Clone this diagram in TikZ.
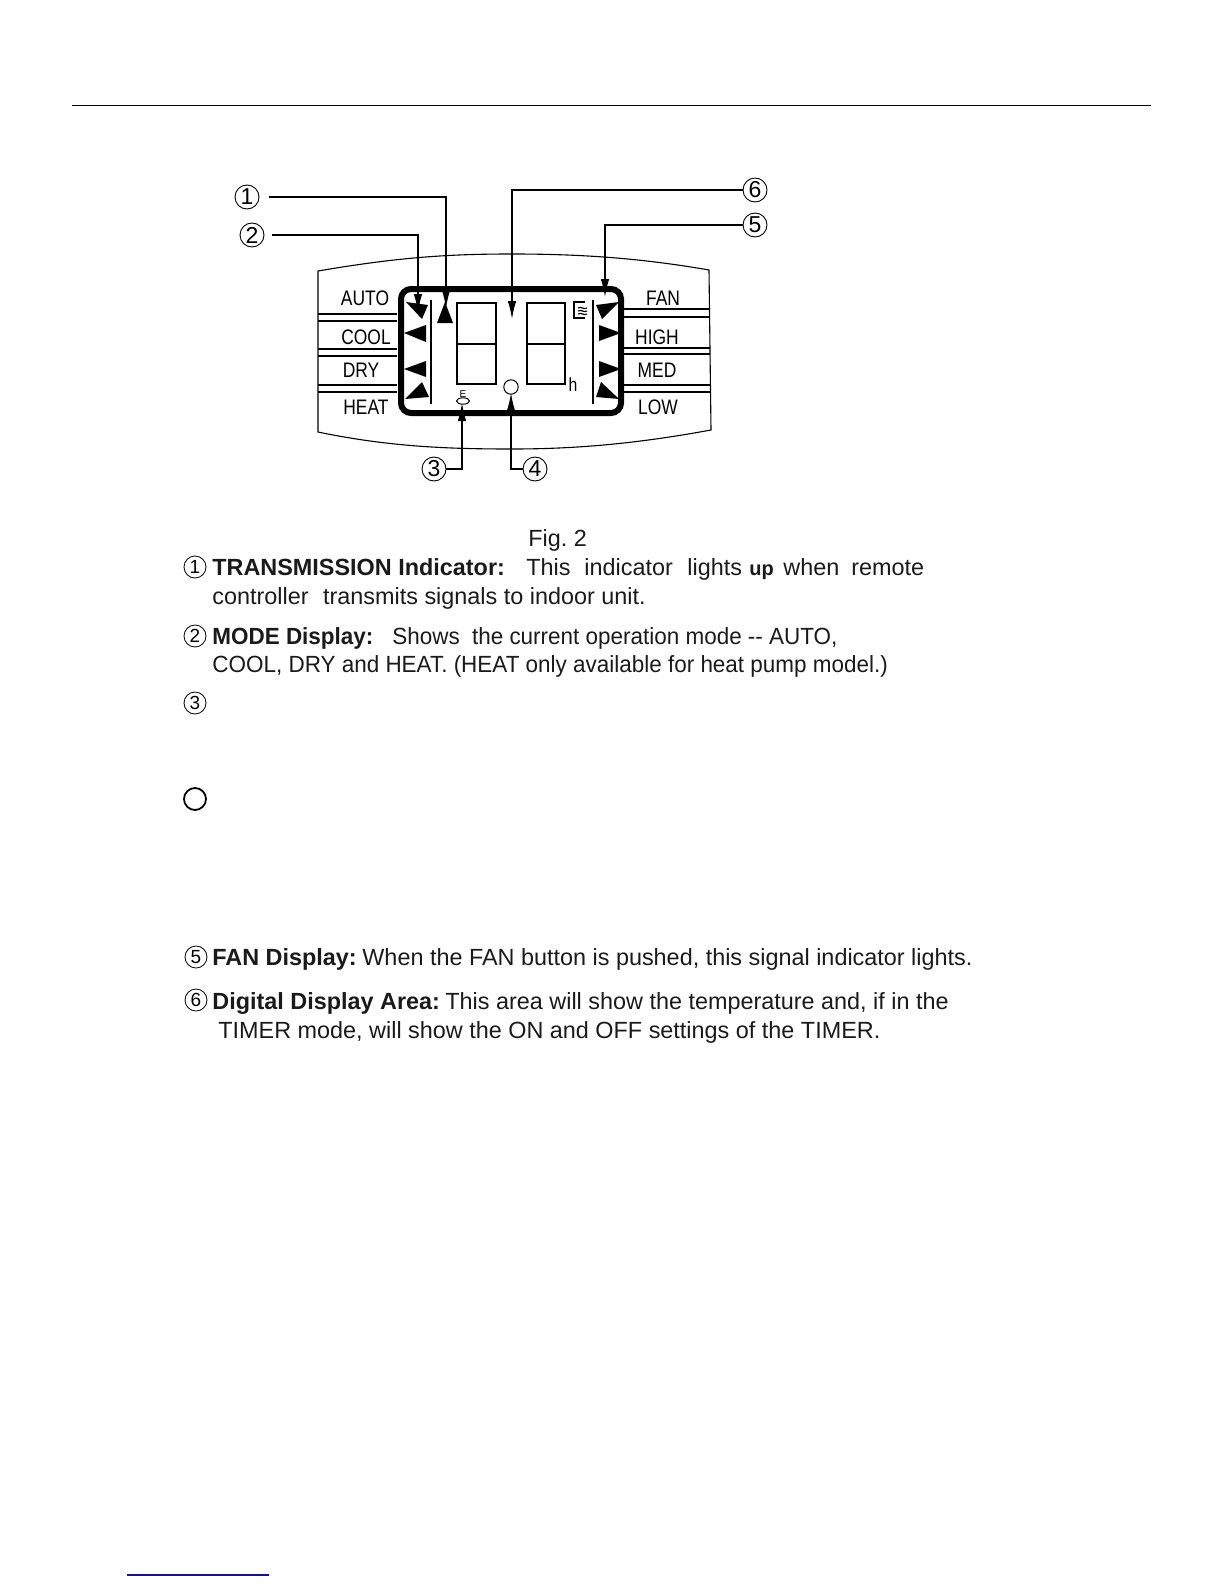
\documentclass[tikz,border=0pt]{standalone}
\usepackage{fontspec}
\setmainfont{Liberation Sans}
\newfontfamily\lcdfont[FakeStretch=0.83]{Liberation Sans}
\newfontfamily\tightfont[FakeStretch=0.96]{Liberation Sans}
\usetikzlibrary{arrows.meta,shapes.geometric}
\definecolor{inkblack}{HTML}{1A1A1A}
\tikzset{
    num/.style={circle,draw,line width=0.45pt,minimum size=12pt,inner sep=0pt,font=\fontsize{11.5}{12}\selectfont},
    smallnum/.style={circle,draw,line width=0.4pt,minimum size=11pt,inner sep=0pt,font=\fontsize{9.5}{10}\selectfont},
    pointer/.style={line width=0.55pt,-{Latex[length=9pt,width=4.2pt]}},
    lcdlabel/.style={font=\lcdfont\fontsize{10.5}{12}\selectfont,inner sep=0pt},
    txt/.style={anchor=base west,inner sep=0pt,text=inkblack,font=\fontsize{11.7}{14}\selectfont},
    boldtxt/.style={txt,font=\fontsize{11.7}{14}\selectfont\bfseries},
    tighttxt/.style={txt,font=\tightfont\fontsize{11.7}{14}\selectfont},
    digit/.style={line width=0.55pt},
    thinline/.style={line width=0.55pt},
}
\begin{document}
\begin{tikzpicture}[x=0.5pt,y=-0.5pt]
    \useasboundingbox (0,0) rectangle (1224,1584);
    \draw[line width=0.4pt] (72,105) -- (1151,105);
    \draw[line width=0.8pt,color={rgb,255:red,20;green,20;blue,130}] (127,1575) -- (269,1575);
    % panel
    \draw[thinline] (318,271) .. controls (400,257) and (450,254) .. (512,254) .. controls (580,254) and (640,258) .. (709,270) -- (711,430) .. controls (640,443) and (580,449) .. (512,449) .. controls (450,449) and (390,447) .. (318,432) -- cycle;
    \foreach \y in {314,321,349,356,385,392} \draw[thinline] (318,\y) -- (397,\y);
    \foreach \y in {309,317,348,354,385,392} \draw[thinline] (623,\y) -- (710,\y);
    \draw[line width=3pt,fill=white,rounded corners=5pt] (401,289) rectangle (621,413);
    % segments
    \draw[digit] (457,303) rectangle (496,384) (457,344) -- (496,344);
    \draw[digit] (527,303) rectangle (565,384) (527,344) -- (565,344);
    \draw[thinline] (431,300) -- (431,404);
    \draw[thinline] (593,300) -- (593,404);
    % mode marks
    \fill (406,302) -- (428,305) -- (422,319) -- cycle;
    \fill (404,333) -- (426,325) -- (426,342) -- cycle;
    \fill (404,369) -- (426,361) -- (426,377) -- cycle;
    \fill (405,399) -- (422,382) -- (429,397) -- cycle;
    \fill (437,323) -- (453,323) -- (445,302) -- cycle;
    % fan marks
    \fill (596,305) -- (619,302) -- (602,319) -- cycle;
    \fill (599,325) -- (621,333) -- (599,341) -- cycle;
    \fill (599,361) -- (621,369) -- (599,377) -- cycle;
    \fill (596,397) -- (619,399) -- (601,382) -- cycle;
    % heater icon
    \draw[line width=0.55pt] (585,302) -- (574,302) -- (574,318) -- (585,318);
    \foreach \y in {308,311,314} \draw[line width=0.55pt] (578,\y) .. controls (581,\y-2) and (584,\y+2) .. (587,\y);
    % labels
    \node[lcdlabel] (auto) at (365,298) {AUTO};
    \node[lcdlabel] (cool) at (366,337) {COOL};
    \node[lcdlabel] (dry) at (361,370) {DRY};
    \node[lcdlabel] (heat) at (366,407) {HEAT};
    \node[lcdlabel] (fan) at (663,298) {FAN};
    \node[lcdlabel] (high) at (657,337) {HIGH};
    \node[lcdlabel] (med) at (657,370) {MED};
    \node[lcdlabel] (low) at (658,407) {LOW};
    \node[lcdlabel,font=\lcdfont\fontsize{9.5}{10}\selectfont] (hour) at (573,385) {h};
    \node[inner sep=0pt,font=\fontsize{5}{5}\selectfont] (minifont) at (463,394) {E};
    \node[draw,ellipse,line width=0.5pt,minimum width=6.5pt,minimum height=3.2pt,inner sep=0pt] (sun) at (463,401) {};
    \node[draw,circle,line width=0.5pt,minimum size=7.2pt,inner sep=0pt] (timer) at (511,387) {};
    % callouts
    \node[num] (c1) at (247,197) {1};
    \node[num] (c2) at (252,235) {2};
    \node[num] (c3) at (434,469) {3};
    \node[num] (c4) at (535,469) {4};
    \node[num] (c5) at (755,225) {5};
    \node[num] (c6) at (755,190) {6};
    \coordinate (t1) at (446,308);
    \coordinate (t2) at (418,312);
    \coordinate (t3) at (462,403);
    \coordinate (t4) at (511,393);
    \coordinate (t5) at (605,297);
    \coordinate (t6) at (512,319);
    \draw[pointer,shorten <=5pt] (c1) -| (t1);
    \draw[pointer,shorten <=4pt] (c2) -| (t2);
    \draw[pointer] (c3) -| (t3);
    \draw[pointer] (c4) -| (t4);
    \draw[pointer] (c5) -| (t5);
    \draw[pointer] (c6) -| (t6);
    % text
    \node[txt] (fig) at (528,546) {Fig.\ 2};
    \node[smallnum] (k1) at (195,567) {1};
    \node[boldtxt] (l1) at (212,575) {TRANSMISSION Indicator:};
    \node[txt] (w1) at (526,575) {This};
    \node[txt] (w2) at (584,575) {indicator};
    \node[txt] (w3) at (687,575) {lights};
    \node[boldtxt,font=\fontsize{10}{12}\selectfont\bfseries] (w4) at (749,575) {up};
    \node[txt] (w5) at (783,575) {when};
    \node[txt] (w6) at (851,575) {remote};
    \node[txt] (l2) at (212,604) {controller\hspace{4pt} transmits signals to indoor unit.};
    \node[smallnum] (k2) at (195,636) {2};
    \node[boldtxt,font=\tightfont\fontsize{11.7}{14}\selectfont\bfseries] (l3) at (212,644) {MODE Display:};
    \node[tighttxt] (l3b) at (392,644) {Shows\hspace{3pt} the current operation mode -{}- AUTO,};
    \node[tighttxt] (l4) at (212,672) {COOL, DRY and HEAT. (HEAT only available for heat pump model.)};
    \node[smallnum] (k3) at (195,703) {3};
    \node[draw,circle,line width=0.9pt,minimum size=11pt,inner sep=0pt] (k4) at (195,799) {};
    \node[smallnum] (k5) at (196,957) {5};
    \node[boldtxt] (l5) at (212,965) {FAN Display:};
    \node[txt] (l5b) at (362,965) {When the FAN button is pushed, this signal indicator lights.};
    \node[smallnum] (k6) at (196,1000) {6};
    \node[boldtxt] (l6) at (212,1009) {Digital Display Area:};
    \node[txt] (l6b) at (445,1009) {This area will show the temperature and, if in the};
    \node[txt] (l7) at (218,1038) {TIMER mode, will show the ON and OFF settings of the TIMER.};
\end{tikzpicture}
\end{document}
